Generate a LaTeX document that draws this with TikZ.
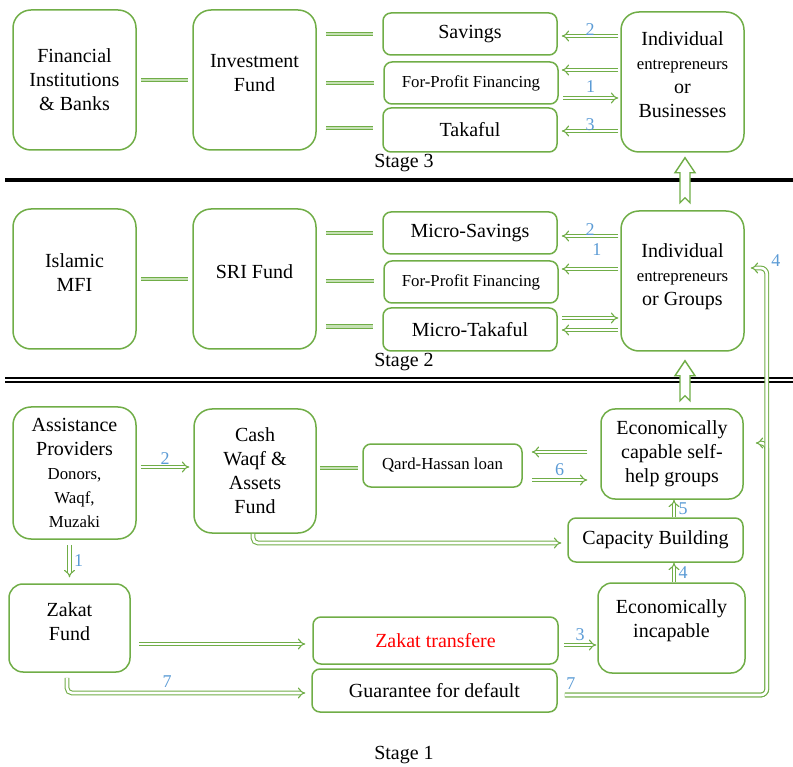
\documentclass[tikz,border=0pt]{standalone}
\usepackage{fontspec}
\setmainfont{Liberation Serif}
\usepackage{tikz}
\usetikzlibrary{arrows,positioning,calc,arrows.meta}

\definecolor{boxgreen}{HTML}{70AD47}
\definecolor{linkfill}{HTML}{C5E0B4}
\definecolor{numblue}{HTML}{5B9BD5}

\newcommand{\boxfont}{\fontsize{20}{24}\selectfont}
\newcommand{\subfont}{\fontsize{16.8}{19.5}\selectfont}
\newcommand{\numfont}{\fontsize{18}{20}\selectfont}

% hollow block arrow pointing up, #1 = tip, #2 = shaft length
\newcommand{\bigup}[2]{%
  \draw[bigarrow] (#1) -- ++(-10,15) -- ++(5,0) -- ++(0,#2) -- ++(5,-5)
    -- ++(5,5) -- ++(0,-#2) -- ++(5,0) -- cycle;}

\tikzset{
  box/.style={draw=boxgreen, line width=1.5pt, align=center, font=\boxfont, inner sep=2pt},
  bigbox/.style={box, minimum width=123pt, minimum height=140pt, rounded corners=18pt},
  midbox/.style={box, rounded corners=14pt},
  smallbox/.style={box, minimum width=174pt, minimum height=42pt, rounded corners=8pt},
  lift/.style={text depth=#1},
  flow/.style={draw=boxgreen, line width=1.1pt, double=white, double distance=2.6pt, -Implies},
  link/.style={draw=boxgreen, line width=1.1pt, double=linkfill, double distance=2.6pt},
  num/.style={text=numblue, font=\numfont, inner sep=1pt},
  stage/.style={font=\boxfont},
  bigarrow/.style={draw=boxgreen, line width=1.4pt, fill=white},
}

\begin{document}
\begin{tikzpicture}[x=1pt, y=-1pt]
    \useasboundingbox (0,0) rectangle (793,767);

    % Stage 3
    \node [bigbox] (fin) at (74.5,80) {Financial\\Institutions\\\& Banks};
    \node [bigbox, lift=14pt] (inv) at (254.5,80) {Investment\\Fund};
    \node [smallbox] (sav) at (470,34) {Savings};
    \node [smallbox, font=\subfont] (fpf3) at (471,83) {For-Profit Financing};
    \node [smallbox, minimum height=44pt] (tak) at (470,130) {Takaful};
    \node [bigbox, lift=14pt] (ind3) at (682.5,82) {Individual\\{\subfont entrepreneurs}\\or\\Businesses};
    \node [stage] (st3) at (404,163) {Stage 3};

    \draw [link] ([xshift=4pt]fin.east) -- ([xshift=-4pt]inv.west);
    \draw [link] ([xshift=9pt]inv.east |- sav.west) -- ([xshift=-9pt]sav.west);
    \draw [link] ([xshift=9pt]inv.east |- fpf3.west) -- ([xshift=-9pt]fpf3.west);
    \draw [link] ([xshift=9pt,yshift=2pt]inv.east |- tak.west) -- ([xshift=-9pt,yshift=2pt]tak.west);

    \draw [flow] ([xshift=-2pt,yshift=-2pt]ind3.west |- sav.east) -- node[num, above=-1pt] {2} ([xshift=4pt,yshift=-2pt]sav.east);
    \draw [flow] ([xshift=-2pt,yshift=13pt]ind3.west |- fpf3.east) -- ([xshift=3pt,yshift=13pt]fpf3.east);
    \draw [flow] ([xshift=4pt,yshift=-15pt]fpf3.east) -- node[num, above=4pt] {1} ([xshift=-2pt,yshift=-15pt]ind3.west |- fpf3.east);
    \draw [flow] ([xshift=-2pt,yshift=-1pt]ind3.west |- tak.east) -- node[num, above=-1pt] {3} ([xshift=4pt,yshift=-1pt]tak.east);

    \draw [line width=4.5pt] (5,180) -- (793,180);

    % Stage 2
    \node [bigbox, lift=12pt] (mfi) at (74.5,279) {Islamic\\MFI};
    \node [bigbox, lift=14pt] (sri) at (254.5,279) {SRI Fund};
    \node [smallbox] (msav) at (470,233) {Micro-Savings};
    \node [smallbox, font=\subfont] (fpf2) at (471,282) {For-Profit Financing};
    \node [smallbox, minimum height=43pt] (mtak) at (470,329.5) {Micro-Takaful};
    \node [bigbox, lift=12pt] (ind2) at (682.5,281) {Individual\\{\subfont entrepreneurs}\\or Groups};
    \node [stage] (st2) at (404,362) {Stage 2};

    \draw [link] ([xshift=4pt]mfi.east) -- ([xshift=-4pt]sri.west);
    \draw [link] ([xshift=9pt]sri.east |- msav.west) -- ([xshift=-9pt]msav.west);
    \draw [link] ([xshift=9pt,yshift=1pt]sri.east |- fpf2.west) -- ([xshift=-9pt,yshift=1pt]fpf2.west);
    \draw [link] ([xshift=9pt,yshift=3pt]sri.east |- mtak.west) -- ([xshift=-9pt,yshift=3pt]mtak.west);

    \draw [flow] ([xshift=-2pt,yshift=-3pt]ind2.west |- msav.east) -- node[num, above=-1pt] {2} ([xshift=4pt,yshift=-3pt]msav.east);
    \draw [flow] ([xshift=-2pt,yshift=13pt]ind2.west |- fpf2.east) -- node[num, pos=0.38, above=12pt] {1} ([xshift=3pt,yshift=13pt]fpf2.east);
    \draw [flow] ([xshift=4pt,yshift=11.5pt]mtak.east) -- ([xshift=-2pt,yshift=11.5pt]ind2.west |- mtak.east);
    \draw [flow] ([xshift=-2pt,yshift=-0.5pt]ind2.west |- mtak.east) -- ([xshift=4pt,yshift=-0.5pt]mtak.east);

    \draw [line width=2pt] (5,378.3) -- (793,378.3);
    \draw [line width=2pt] (5,381.7) -- (793,381.7);

    % Stage 1
    \node [bigbox, minimum height=132pt] (ast) at (74.5,473) {Assistance\\Providers\\{\subfont Donors,}\\{\subfont Waqf,}\\{\subfont Muzaki}};
    \node [bigbox, minimum width=122pt, minimum height=124pt] (cash) at (255,471) {Cash\\Waqf \&\\Assets\\Fund};
    \node [smallbox, minimum width=159pt, minimum height=43pt, font=\subfont] (qard) at (442.5,465.5) {Qard-Hassan loan};
    \node [midbox, minimum width=142pt, minimum height=90pt] (econ) at (672,454) {Economically\\capable self-\\help groups};
    \node [smallbox, minimum width=175pt, minimum height=44pt] (cap) at (655.5,540) {Capacity Building};
    \node [midbox, minimum width=147pt, minimum height=90pt, lift=18pt] (incap) at (671.5,628) {Economically\\incapable};
    \node [midbox, minimum width=121pt, minimum height=88pt, lift=12pt] (zak) at (69.5,628) {Zakat\\Fund};
    \node [smallbox, minimum width=245pt, minimum height=47pt, text=red] (ztr) at (435.5,640.5) {Zakat transfere};
    \node [smallbox, minimum width=245pt, minimum height=43pt] (guar) at (434.5,690.5) {Guarantee for default};
    \node [stage] (st1) at (404,755) {Stage 1};

    \draw [flow] ([xshift=4pt,yshift=6pt]ast.east) -- node[num, above=1pt] {2} ([xshift=-4pt,yshift=4pt]cash.west);
    \draw [link] ([xshift=3pt,yshift=3pt]cash.east) -- ([xshift=-4pt,yshift=-2.5pt]qard.west);
    \draw [flow] ([xshift=-13pt,yshift=2pt]econ.west) -- ([xshift=9pt,yshift=13.5pt]qard.east);
    \draw [flow] ([xshift=9pt,yshift=-14.5pt]qard.east) -- node[num, above=3pt] {6} ([xshift=-13pt,yshift=-26pt]econ.west);
    \draw [flow] ([xshift=2pt]econ.south |- cap.north) -- node[num, right=3pt] {5} ([xshift=2pt]econ.south);
    \draw [flow] ([xshift=2.5pt]incap.north) -- node[num, right=3pt] {4} ([xshift=2.5pt]incap.north |- cap.south);
    \draw [flow, rounded corners=5pt] ([xshift=-2pt]cash.south) |- ([xshift=-6pt,yshift=-3pt]cap.west);
    \draw [flow] ([yshift=-5pt]ast.south -| zak.north) -- node[num, right=3pt] {1} ([yshift=6pt]zak.north);
    \draw [flow] ([xshift=8pt,yshift=-16pt]zak.east) -- ([xshift=-7pt,yshift=-3.5pt]ztr.west);
    \draw [flow, rounded corners=5pt] ([xshift=-2.5pt,yshift=-5pt]zak.south) |- node[num, pos=0.71, above=4pt] {7} ([xshift=-6pt,yshift=-2.5pt]guar.west);
    \draw [flow] ([xshift=5pt,yshift=-4.5pt]ztr.east) -- node[num, above=3pt] {3} ([xshift=-1pt,yshift=-17pt]incap.west);
    \draw [flow, rounded corners=6pt] ([xshift=7pt,yshift=-4.5pt]guar.east) -- node[num, pos=0.03, above=4pt] {7} ([xshift=23pt,yshift=-4.5pt]econ.east |- guar.east) -- ([xshift=23pt,yshift=11pt]econ.east) -- ([xshift=12pt,yshift=11pt]econ.east);
    \draw [flow, rounded corners=6pt] ([xshift=7pt,yshift=-4.5pt]guar.east) -| ([xshift=22pt,yshift=13pt]ind2.east) node[num, above right=0pt, xshift=3pt] {4} -- ([xshift=6pt,yshift=13pt]ind2.east);

    % block arrows between stages
    \bigup{[xshift=2.5pt,yshift=-5pt]ind3.south}{30}
    \bigup{[xshift=2.5pt,yshift=-9pt]ind2.south}{25}
\end{tikzpicture}
\end{document}
